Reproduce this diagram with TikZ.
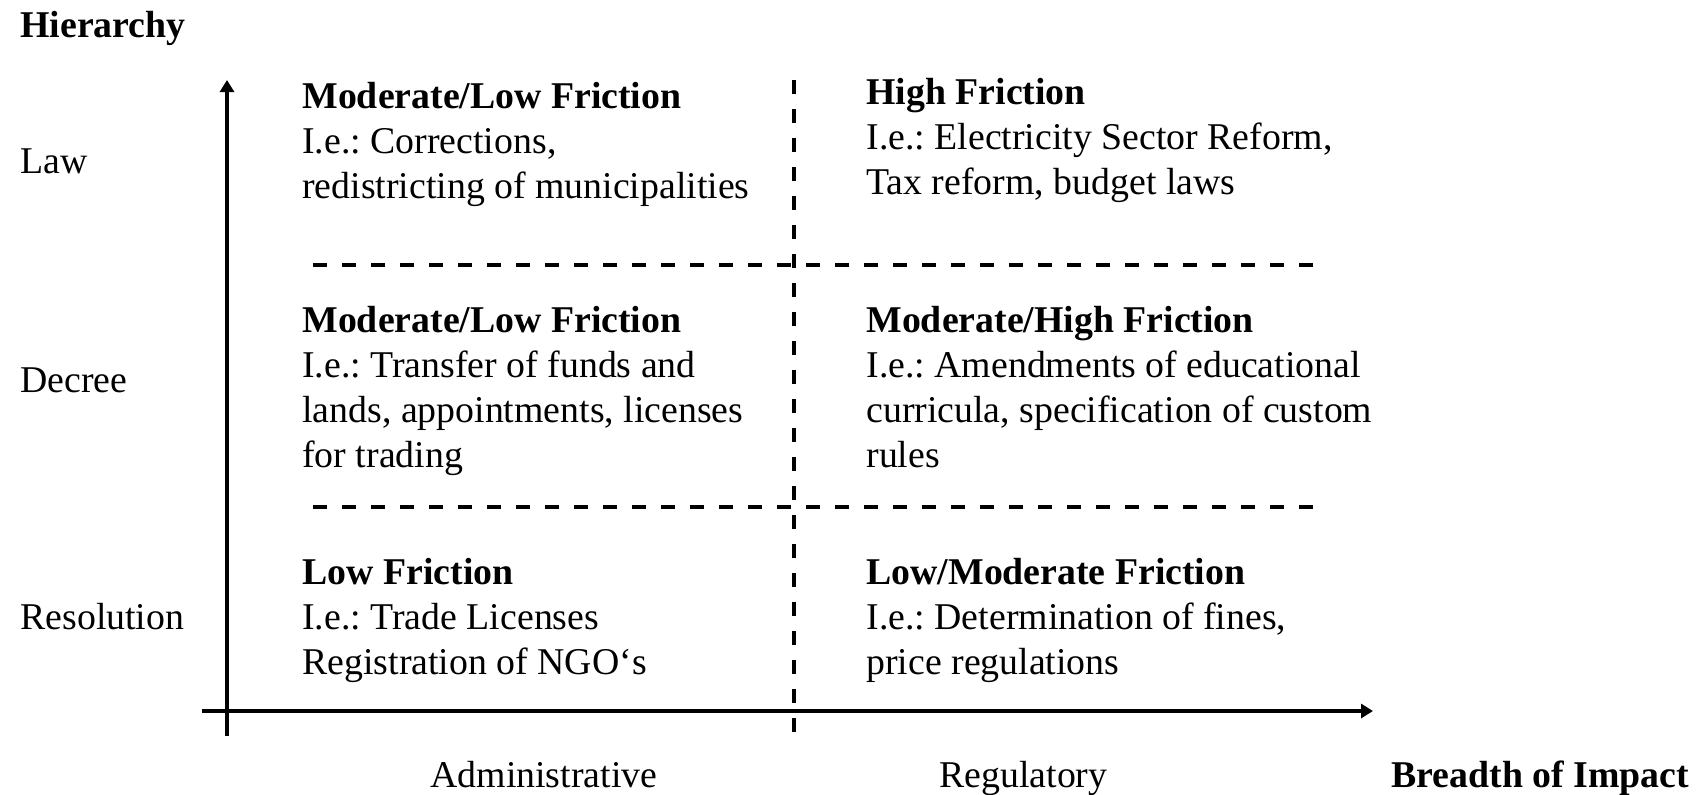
\documentclass[tikz,border=0pt]{standalone}
\usepackage{fontspec}
\setmainfont{Liberation Serif}
\usetikzlibrary{arrows.meta}
\begin{document}
\frenchspacing
\begin{tikzpicture}[x=0.5pt,y=-0.5pt,
  txt/.style={inner sep=0pt,anchor=base west,align=left,
    font=\fontsize{18.9pt}{22.5pt}\selectfont},
  axis/.style={line width=2pt,-{Triangle[width=7pt,length=6pt]}},
  divider/.style={line width=2pt,dash pattern=on 7pt off 7.5pt}]
  \useasboundingbox (0,0) rectangle (1696,794);

  % axes
  \coordinate (yb) at (227,736);
  \coordinate (yt) at (227,80);
  \coordinate (xl) at (202,711);
  \coordinate (xr) at (1373,711);
  \draw[axis] (yb) -- (yt);
  \draw[axis] (xl) -- (xr);

  % quadrant dividers
  \coordinate (vt) at (794,80);
  \coordinate (vb) at (794,736);
  \coordinate (h1l) at (313,265);
  \coordinate (h1r) at (1328,265);
  \coordinate (h2l) at (313,507);
  \coordinate (h2r) at (1328,507);
  \draw[divider] (vt) -- (vb);
  \draw[divider] (h1l) -- (h1r);
  \draw[divider] (h2l) -- (h2r);

  % axis titles and levels
  \node[txt,font=\fontsize{18.9pt}{22.5pt}\selectfont\bfseries] (hier) at (20,37) {Hierarchy};
  \node[txt] (law) at (20,173) {Law};
  \node[txt] (decree) at (20,392) {Decree};
  \node[txt] (resol) at (20,629) {Resolution};
  \node[txt] (admin) at (430,787) {Administrative};
  \node[txt] (regul) at (939,787) {Regulatory};
  \node[txt,font=\fontsize{18.9pt}{22.5pt}\selectfont\bfseries] (breadth) at (1391,787) {Breadth of Impact};

  % quadrant contents (placed by the baseline of their last line)
  \node[txt] (tl) at (302,198) {\textbf{Moderate/Low Friction}\\I.e.: Corrections,\\redistricting of municipalities};
  \node[txt] (tr) at (866,194) {\textbf{High Friction}\\I.e.: Electricity Sector Reform,\\Tax reform, budget laws};
  \node[txt] (ml) at (302,467) {\textbf{Moderate/Low Friction}\\I.e.: Transfer of funds and\\lands, appointments, licenses\\for trading};
  \node[txt] (mr) at (866,467) {\textbf{Moderate/High Friction}\\I.e.: Amendments of educational\\curricula, specification of custom\\rules};
  \node[txt] (bl) at (302,674) {\textbf{Low Friction}\\I.e.: Trade Licenses\\Registration of NGO‘s};
  \node[txt] (br) at (866,674) {\textbf{Low/Moderate Friction}\\I.e.: Determination of fines,\\price regulations};
\end{tikzpicture}
\end{document}
